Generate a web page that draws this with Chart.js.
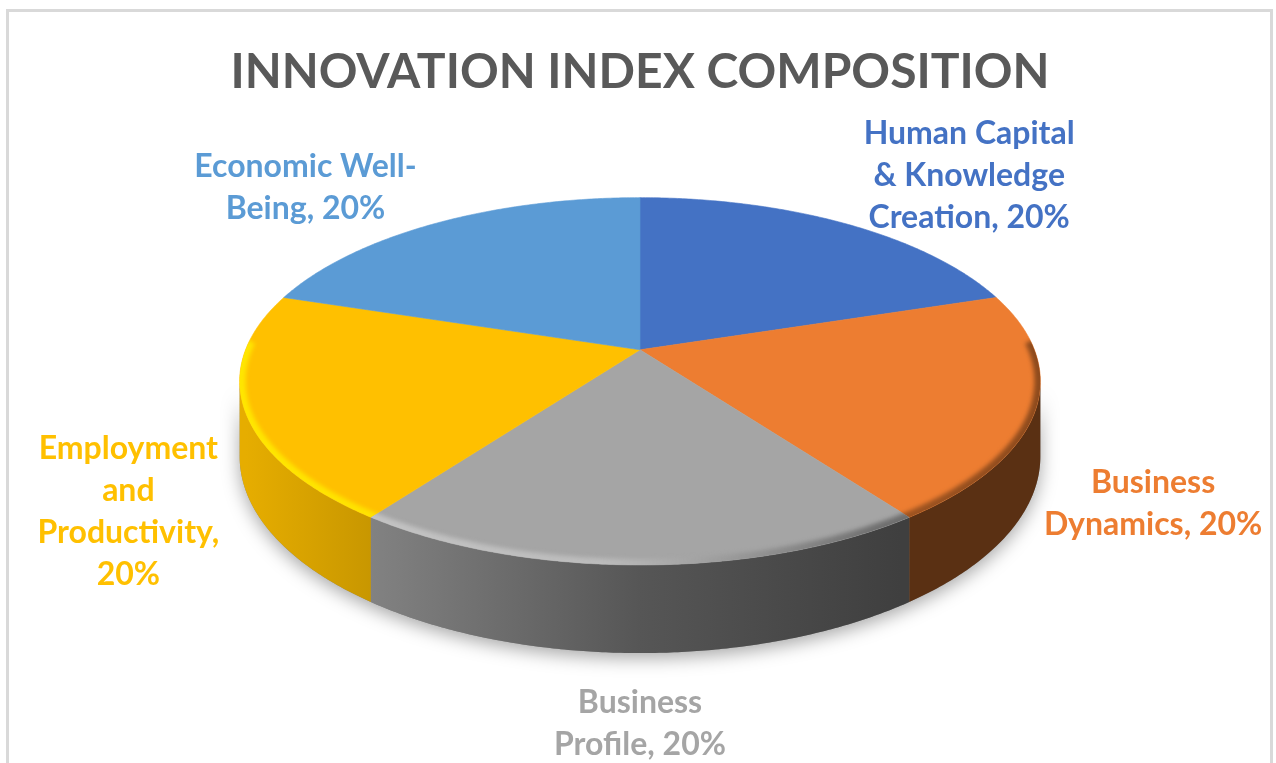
<!DOCTYPE html>
<html>
<head>
<meta charset="utf-8">
<script src="https://cdn.jsdelivr.net/npm/chart.js@4.4.0/dist/chart.umd.min.js"></script>
<style>
  html, body { margin: 0; padding: 0; width: 1276px; height: 763px; overflow: hidden; background: #fff; }
  #frame { position: absolute; left: 6px; top: 9px; width: 1261px; height: 800px; border: 3px solid #d9d9d9; }
  #pieChart { position: absolute; left: 0; top: 0; }
</style>
</head>
<body>
<div id="frame"></div>
<canvas id="pieChart" width="1276" height="763"></canvas>
<script>
// dati del grafico
const categories = ['Human Capital & Knowledge Creation', 'Business Dynamics', 'Business Profile', 'Employment and Productivity', 'Economic Well-Being'];
const shares = [20, 20, 20, 20, 20];
const sliceColors = ['#4472C4', '#ED7D31', '#A5A5A5', '#FFC000', '#5B9BD5'];
const chartTitle = 'INNOVATION INDEX COMPOSITION';

// stile "3D" (prospettiva, spessore, luce)
const TILT = 0.1716;     // prospettiva
const SQUASH = 0.452;    // schiacciamento verticale
const DEPTH = 0.185;     // spessore del disco
const SCALE = 2;         // raggio orizzontale / raggio chart.js
const wallShade = [[0, 0.9], [0.165, 0.78], [0.5, 0.52], [0.83, 0.38], [1, 0.38]];
const rimShade = [[0, 1.2], [0.45, 1.14], [0.6, 0.95], [0.8, 0.68], [1, 0.6]];
const labelFont = 'bold 32px Lato';
const labelLine = 42;
const labelWrap = 224;
const labelGap = 18;
const labelNudge = [[53, 18], [-4, 0], [0, 11], [-12, -5], [-55, 13]];

function hexRgb(h) {
  const n = parseInt(h.slice(1), 16);
  return [(n >> 16) & 255, (n >> 8) & 255, n & 255];
}
function shade(hex, f) {
  return 'rgb(' + hexRgb(hex).map(c => Math.max(0, Math.min(255, Math.round(c * f)))).join(',') + ')';
}

function wrapText(ctx, text, maxW) {
  // spezza su spazi e dopo i trattini
  const parts = [];
  text.split(' ').forEach((word, wi) => {
    const bits = word.split(/(?<=-)/);
    bits.forEach((b, bi) => parts.push({ t: b, sep: (bi === 0 && wi > 0) ? ' ' : '' }));
  });
  const lines = [];
  let cur = '';
  parts.forEach(p => {
    const test = cur === '' ? p.t : cur + p.sep + p.t;
    if (cur !== '' && ctx.measureText(test).width > maxW) {
      lines.push(cur);
      cur = p.t;
    } else {
      cur = test;
    }
  });
  if (cur) lines.push(cur);
  return lines;
}

const pie3d = {
  id: 'pie3d',
  beforeDatasetsDraw(chart) {
    const ctx = chart.ctx;
    const arcs = chart.getDatasetMeta(0).data;
    const cx = arcs[0].x, cy = arcs[0].y, R = arcs[0].outerRadius * SCALE;
    const S = R * SQUASH, H = R * DEPTH;
    const proj = (a, drop) => {
      const u = Math.cos(a), v = Math.sin(a), w = 1 - TILT * v;
      return [cx + R * u / w, cy + (S * v + drop) / w];
    };
    const rim = (a, b, drop, first) => {
      const n = Math.max(2, Math.ceil(Math.abs(b - a) / 0.008));
      for (let i = 0; i <= n; i++) {
        const p = proj(a + (b - a) * i / n, drop);
        if (i === 0 && first) ctx.moveTo(p[0], p[1]); else ctx.lineTo(p[0], p[1]);
      }
    };
    const lo = Math.asin(TILT), hi = Math.PI - Math.asin(TILT);
    const grad = (hex, stops) => {
      const g = ctx.createLinearGradient(cx - R, 0, cx + R, 0);
      stops.forEach(s => g.addColorStop(s[0], shade(hex, s[1])));
      return g;
    };

    ctx.save();
    // ombra sotto il disco
    ctx.save();
    ctx.shadowColor = 'rgba(0,0,0,0.35)';
    ctx.shadowBlur = 18;
    ctx.shadowOffsetY = 5;
    ctx.beginPath();
    rim(lo, hi, 0, true);
    rim(hi, lo, H, false);
    ctx.closePath();
    ctx.fillStyle = '#888';
    ctx.fill();
    ctx.restore();

    // pareti laterali
    arcs.forEach((arc, i) => {
      const s = Math.max(arc.startAngle, lo), e = Math.min(arc.endAngle, hi);
      if (e <= s) return;
      ctx.beginPath();
      rim(s, e, 0, true);
      rim(e, s, H, false);
      ctx.closePath();
      ctx.fillStyle = grad(sliceColors[i], wallShade);
      ctx.fill();
    });

    // facce superiori
    arcs.forEach((arc, i) => {
      ctx.beginPath();
      ctx.moveTo(cx, cy);
      rim(arc.startAngle, arc.endAngle, 0, false);
      ctx.closePath();
      ctx.fillStyle = sliceColors[i];
      ctx.strokeStyle = sliceColors[i];
      ctx.lineWidth = 0.6;
      ctx.fill();
      ctx.stroke();
    });

    // smusso sul bordo anteriore
    arcs.forEach((arc, i) => {
      const s = Math.max(arc.startAngle, 0), e = Math.min(arc.endAngle, Math.PI);
      if (e <= s) return;
      ctx.save();
      ctx.beginPath();
      ctx.moveTo(cx, cy);
      rim(arc.startAngle, arc.endAngle, 0, false);
      ctx.closePath();
      ctx.clip();
      ctx.filter = 'blur(2px)';
      ctx.beginPath();
      rim(s - 0.05, e + 0.05, 0, true);
      ctx.lineWidth = 12;
      ctx.strokeStyle = grad(sliceColors[i], rimShade);
      ctx.stroke();
      ctx.restore();
    });
    ctx.restore();
    return false;
  },
  afterDraw(chart) {
    const ctx = chart.ctx;
    const arcs = chart.getDatasetMeta(0).data;
    const cx = arcs[0].x, cy = arcs[0].y, R = arcs[0].outerRadius * SCALE;
    const S = R * SQUASH, H = R * DEPTH;
    const total = shares.reduce((a, b) => a + b, 0);
    ctx.save();
    ctx.font = labelFont;
    ctx.textAlign = 'center';
    ctx.textBaseline = 'middle';
    arcs.forEach((arc, i) => {
      const mid = (arc.startAngle + arc.endAngle) / 2;
      const dx = Math.cos(mid), dy = Math.sin(mid);
      const w = 1 - TILT * dy;
      const drop = dy > 0 ? H : 0;
      const ax = cx + R * dx / w + dx * labelGap;
      const ay = cy + (S * dy + drop) / w + dy * labelGap;
      const text = categories[i] + ', ' + Math.round(shares[i] / total * 100) + '%';
      const lines = wrapText(ctx, text, labelWrap);
      const bw = Math.max(...lines.map(l => ctx.measureText(l).width));
      const bh = lines.length * labelLine;
      const x = ax + dx * bw / 2 + labelNudge[i][0];
      const y = ay + dy * bh / 2 + labelNudge[i][1];
      ctx.fillStyle = sliceColors[i];
      lines.forEach((l, k) => ctx.fillText(l, x, y - bh / 2 + labelLine * (k + 0.5)));
    });
    ctx.restore();
  }
};

const ctx = document.getElementById('pieChart').getContext('2d');
new Chart(ctx, {
  type: 'pie',
  data: {
    labels: categories,
    datasets: [{
      data: shares,
      backgroundColor: sliceColors,
      borderWidth: 0
    }]
  },
  options: {
    responsive: false,
    animation: false,
    layout: { padding: { left: 4, right: 0, top: 0, bottom: 216 } },
    plugins: {
      legend: { display: false },
      tooltip: { enabled: false },
      title: {
        display: true,
        text: chartTitle,
        color: '#595959',
        font: { family: 'Lato', size: 48, weight: 'bold' },
        padding: { top: 44, bottom: 51 }
      }
    }
  },
  plugins: [pie3d]
});
</script>
</body>
</html>
